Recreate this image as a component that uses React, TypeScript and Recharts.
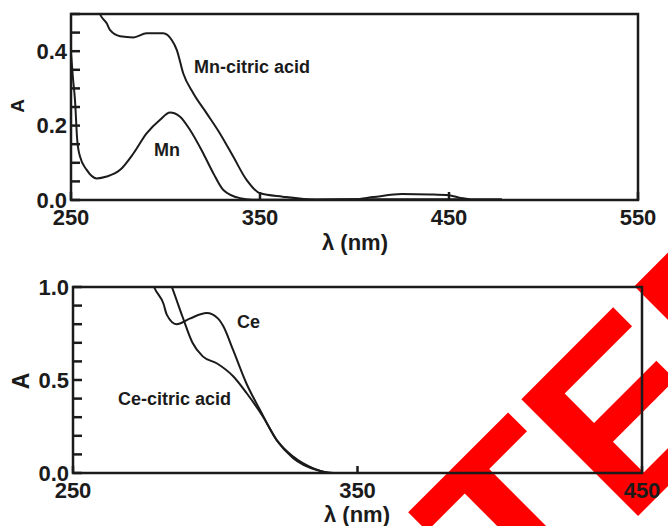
import React from "react";
import { LineChart, Line, XAxis, YAxis, ReferenceArea } from "recharts";

const INK = "#1b1b1b";
const FONT = "'Liberation Sans', Arial, Helvetica, sans-serif";

// upper panel: Mn / Mn-citric acid
const MN_WL = [250, 251, 252.1, 253.3, 254.8, 258.3, 263.6, 268.9, 276, 283, 290, 297, 302.4, 307.7, 313, 320, 325.3, 330.6, 339.4, 346, 360, 400, 440, 478];
const MN_A = [0.394, 0.33, 0.269, 0.161, 0.116, 0.081, 0.058, 0.063, 0.081, 0.125, 0.179, 0.215, 0.235, 0.224, 0.188, 0.125, 0.072, 0.027, 0.005, 0.001, 0.001, 0.002, 0.002, 0.002];

const MN_CIT_WL = [262, 265.3, 268.9, 270.6, 276, 283, 290, 298.8, 303.3, 306, 309.4, 314.7, 321.8, 328.8, 335.9, 342.9, 350, 362, 380, 400, 410, 425, 440, 450, 455, 461];
const MN_CIT_A = [0.56, 0.5, 0.475, 0.457, 0.44, 0.437, 0.448, 0.448, 0.43, 0.403, 0.34, 0.287, 0.233, 0.179, 0.116, 0.054, 0.018, 0.009, 0.001, 0.002, 0.008, 0.016, 0.015, 0.013, 0.007, 0.002];

const TOP_X_TICKS = [250, 350, 450, 550];
const TOP_Y_TICKS = [0, 0.05, 0.1, 0.15, 0.2, 0.25, 0.3, 0.35, 0.4, 0.45, 0.5];
const TOP_Y_LABELS = [0, 0.2, 0.4];

// lower panel: Ce / Ce-citric acid
const CE_WL = [277, 278.8, 281.8, 283, 286.4, 291, 297, 301, 302.8, 306.3, 311, 315.7, 321.6, 327.4, 334.5, 341.5, 360, 400, 450];
const CE_A = [1.06, 0.99, 0.91, 0.85, 0.8, 0.83, 0.86, 0.83, 0.79, 0.66, 0.48, 0.34, 0.177, 0.088, 0.025, 0, 0, 0, 0];

const CE_CIT_WL = [283, 285, 288.5, 292, 295.6, 300.5, 306.3, 311, 316.9, 321.6, 327.4, 335.7, 341.5, 360, 400, 450];
const CE_CIT_A = [1.07, 0.99, 0.84, 0.7, 0.627, 0.59, 0.52, 0.43, 0.3, 0.177, 0.08, 0.016, 0, 0, 0, 0];

const BOTTOM_X_TICKS = [250, 350, 450];
const BOTTOM_Y_TICKS = [0, 0.1, 0.2, 0.3, 0.4, 0.5, 0.6, 0.7, 0.8, 0.9, 1.0];
const BOTTOM_Y_LABELS = [0, 0.5, 1.0];

const toPoints = (wl: number[], a: number[]) => wl.map((w, i) => ({ wl: w, a: a[i] }));

const textStyle = { fontFamily: FONT, fontWeight: 700, fill: INK };

function makeXTick(markLen: number) {
  return (props: any) => {
    const { x, y, payload } = props;
    return (
      <g>
        <line x1={x} y1={y} x2={x} y2={y - markLen} stroke={INK} strokeWidth={2.5} />
        <text x={x} y={y + 17} textAnchor="middle" dominantBaseline="central" fontSize={22} style={textStyle}>
          {payload.value}
        </text>
      </g>
    );
  };
}

function makeYTick(labels: number[]) {
  return (props: any) => {
    const { x, y, payload } = props;
    const v = Number(payload.value);
    const show = labels.some((l) => Math.abs(l - v) < 1e-6);
    return (
      <g>
        <line x1={x} y1={y} x2={x + 9} y2={y} stroke={INK} strokeWidth={2.5} />
        {show && (
          <text x={x - 4} y={y} textAnchor="end" dominantBaseline="central" fontSize={22} style={textStyle}>
            {v.toFixed(1)}
          </text>
        )}
      </g>
    );
  };
}

type PanelProps = {
  top: number;
  left: number;
  right: number;
  xDomain: [number, number];
  yDomain: [number, number];
  xTicks: number[];
  yTicks: number[];
  yLabels: number[];
  markLen: number;
  series: { wl: number; a: number }[][];
};

function Panel({ top, left, right, xDomain, yDomain, xTicks, yTicks, yLabels, markLen, series }: PanelProps) {
  return (
    <div style={{ position: "absolute", left: 0, top }}>
      <LineChart width={668} height={250} margin={{ top: 14, right, bottom: 14, left }}>
        <XAxis
          type="number"
          dataKey="wl"
          domain={xDomain}
          ticks={xTicks}
          interval={0}
          allowDataOverflow
          axisLine={false}
          tickLine={false}
          tickSize={0}
          tickMargin={0}
          height={36}
          tick={makeXTick(markLen)}
        />
        <YAxis
          type="number"
          domain={yDomain}
          ticks={yTicks}
          interval={0}
          allowDataOverflow
          axisLine={false}
          tickLine={false}
          tickSize={0}
          tickMargin={0}
          width={60}
          tick={makeYTick(yLabels)}
        />
        {series.map((d, i) => (
          <Line
            key={i}
            data={d}
            dataKey="a"
            type="monotone"
            stroke={INK}
            strokeWidth={2}
            dot={false}
            activeDot={false}
            isAnimationActive={false}
          />
        ))}
        <ReferenceArea
          x1={xDomain[0]}
          x2={xDomain[1]}
          y1={yDomain[0]}
          y2={yDomain[1]}
          fill="none"
          stroke={INK}
          strokeWidth={2.5}
        />
      </LineChart>
    </div>
  );
}

export default function App() {
  return (
    <div style={{ position: "absolute", left: 0, top: 0, width: 668, height: 526, background: "#fff", overflow: "hidden" }}>
      <svg width={668} height={526} style={{ position: "absolute", left: 0, top: 0 }}>
        <text
          transform="translate(523,631) rotate(-45)"
          fontSize={240}
          fontFamily={FONT}
          fontWeight={700}
          fill="#ff0000"
        >
          TEF
        </text>
      </svg>
      <Panel
        top={0}
        left={11}
        right={30}
        xDomain={[250, 550]}
        yDomain={[0, 0.5]}
        xTicks={TOP_X_TICKS}
        yTicks={TOP_Y_TICKS}
        yLabels={TOP_Y_LABELS}
        markLen={8}
        series={[toPoints(MN_WL, MN_A), toPoints(MN_CIT_WL, MN_CIT_A)]}
      />
      <Panel
        top={273}
        left={13}
        right={26}
        xDomain={[250, 450]}
        yDomain={[0, 1]}
        xTicks={BOTTOM_X_TICKS}
        yTicks={BOTTOM_Y_TICKS}
        yLabels={BOTTOM_Y_LABELS}
        markLen={7}
        series={[toPoints(CE_WL, CE_A), toPoints(CE_CIT_WL, CE_CIT_A)]}
      />
      <svg width={668} height={526} style={{ position: "absolute", left: 0, top: 0, pointerEvents: "none" }}>
        <g style={textStyle}>
          <text transform="translate(17,106) rotate(-90)" textAnchor="middle" dominantBaseline="central" fontSize={19}>A</text>
          <text transform="translate(21,381) rotate(-90)" textAnchor="middle" dominantBaseline="central" fontSize={23}>A</text>
          <text x={355} y={242} textAnchor="middle" dominantBaseline="central" fontSize={22}>λ (nm)</text>
          <text x={357} y={514} textAnchor="middle" dominantBaseline="central" fontSize={22}>λ (nm)</text>
          <text x={194} y={67} dominantBaseline="central" fontSize={18}>Mn-citric acid</text>
          <text x={154} y={150} dominantBaseline="central" fontSize={18}>Mn</text>
          <text x={237} y={322} dominantBaseline="central" fontSize={18}>Ce</text>
          <text x={118} y={399} dominantBaseline="central" fontSize={18}>Ce-citric acid</text>
        </g>
      </svg>
    </div>
  );
}
